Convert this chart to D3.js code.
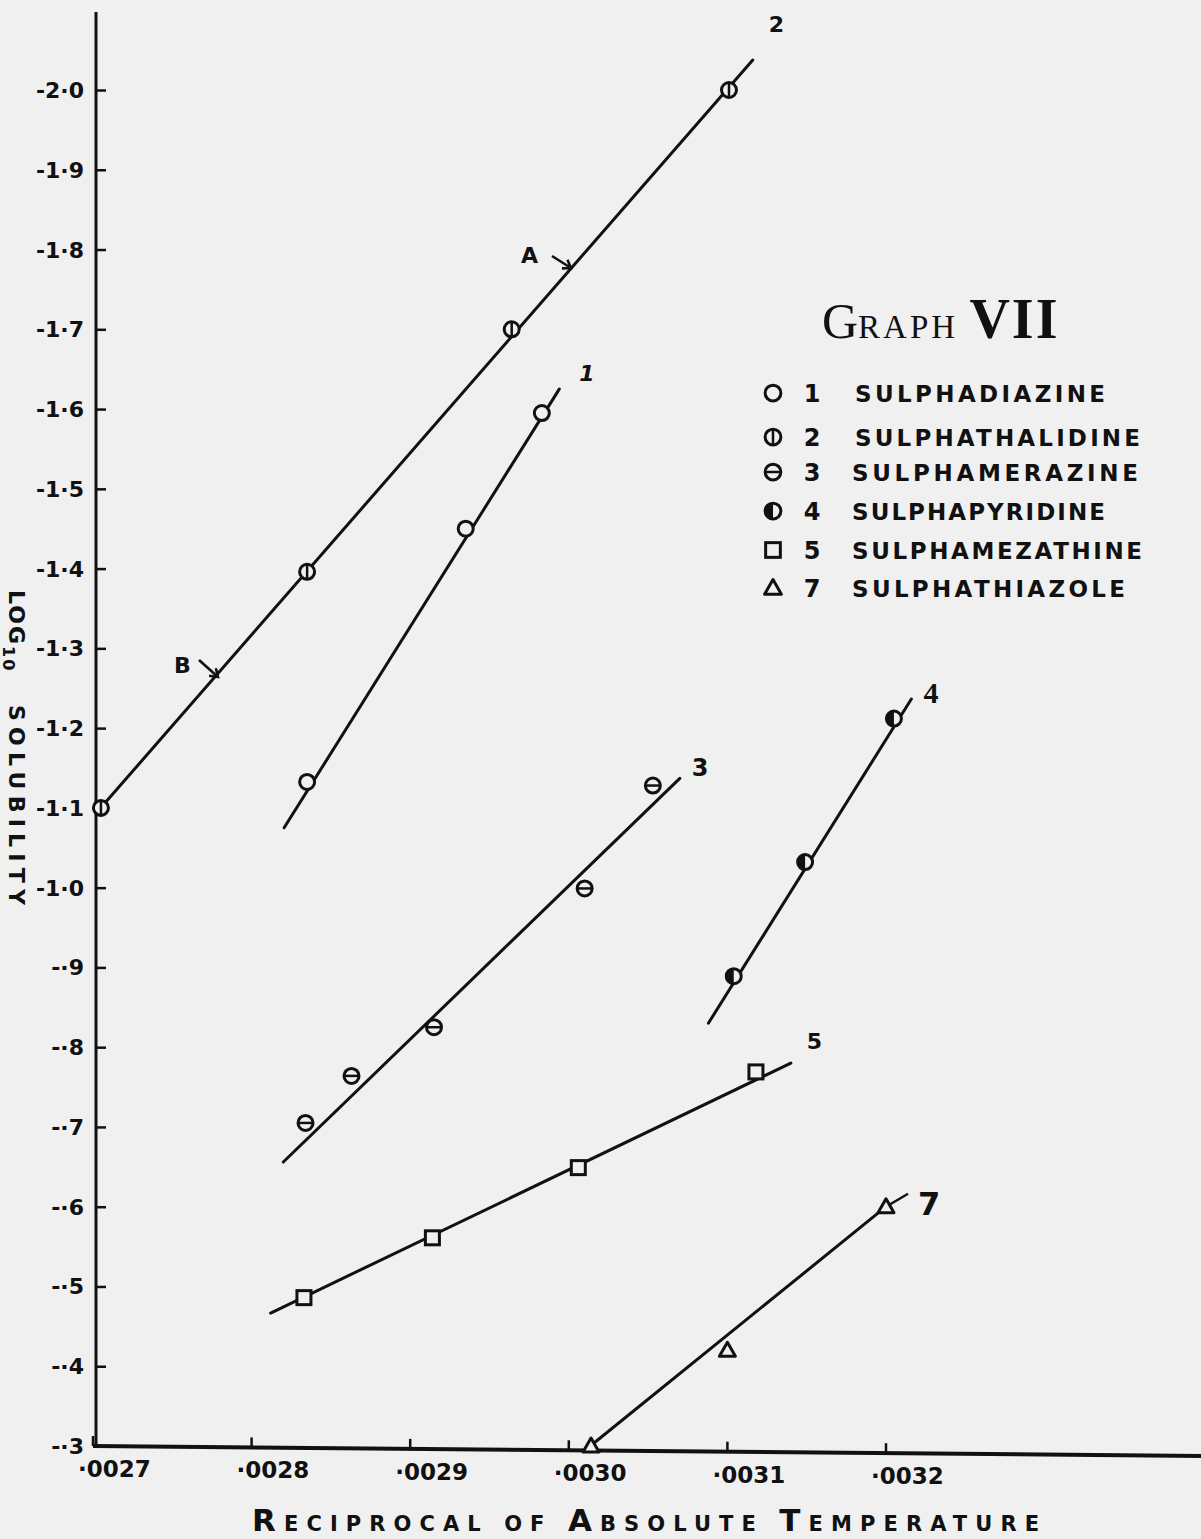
<!DOCTYPE html>
<html><head><meta charset="utf-8">
<script src="https://cdn.jsdelivr.net/npm/d3@7"></script>
<style>body{margin:0;background:#f0f0f0}svg{display:block}</style></head>
<body>
<svg id="c" width="1201" height="1539"></svg>
<script>
// ---- data ----
const xTickValues = [0.0027, 0.0028, 0.0029, 0.0030, 0.0031, 0.0032];
const xTickLabels = ["·0027", "·0028", "·0029", "·0030", "·0031", "·0032"];
const yTickValues = [-2.0, -1.9, -1.8, -1.7, -1.6, -1.5, -1.4, -1.3, -1.2, -1.1, -1.0, -0.9, -0.8, -0.7, -0.6, -0.5, -0.4, -0.3];
const yTickLabels = ["-2·0", "-1·9", "-1·8", "-1·7", "-1·6", "-1·5", "-1·4", "-1·3", "-1·2", "-1·1", "-1·0", "-·9", "-·8", "-·7", "-·6", "-·5", "-·4", "-·3"];

const seriesIds = ["1", "2", "3", "4", "5", "7"];
const seriesNames = ["SULPHADIAZINE", "SULPHATHALIDINE", "SULPHAMERAZINE", "SULPHAPYRIDINE", "SULPHAMEZATHINE", "SULPHATHIAZOLE"];
const seriesMarkers = ["open", "vbar", "hbar", "half", "square", "triangle"];

const points1 = [[0.002835, -1.1325], [0.002935, -1.45], [0.002983, -1.595]];
const points2 = [[0.002705, -1.10], [0.002835, -1.396], [0.002964, -1.70], [0.003101, -2.00]];
const points3 = [[0.002834, -0.705], [0.002863, -0.764], [0.002915, -0.825], [0.00301, -0.999], [0.003053, -1.128]];
const points4 = [[0.003104, -0.889], [0.003149, -1.032], [0.003205, -1.212]];
const points5 = [[0.002833, -0.486], [0.002914, -0.561], [0.003006, -0.649], [0.003118, -0.769]];
const points7 = [[0.003014, -0.30], [0.0031, -0.42], [0.0032, -0.60]];

const fit1 = [[0.0028205, -1.075], [0.002994, -1.625]];
const fit2 = [[0.002702, -1.0935], [0.003116, -2.0376]];
const fit3 = [[0.00282, -0.656], [0.00307, -1.137]];
const fit4 = [[0.003088, -0.830], [0.003216, -1.2365]];
const fit5 = [[0.002812, -0.4667], [0.00314, -0.780]];
const fit7 = [[0.003012, -0.2975], [0.0032, -0.60]];

const allPoints = [points1, points2, points3, points4, points5, points7];
const allFits = [fit1, fit2, fit3, fit4, fit5, fit7];

// ---- drawing ----
const ink = "#111";
const bg = "#f0f0f0";
const FONT = "'DejaVu Sans', sans-serif";
const svg = d3.select("#c");
svg.append("rect").attr("width", 1201).attr("height", 1539).attr("fill", bg);

const x = d3.scaleLinear().domain([0.0027, 0.0032]).range([93, 886]);
const y = d3.scaleLinear().domain([-2.0, -0.3]).range([90, 1446]);
const baseY = px => 1446 + (px - 93) * 10 / 1108; // slightly sloped hand-drawn baseline

// y axis
svg.append("line").attr("x1", 96).attr("x2", 96).attr("y1", 12).attr("y2", 1448)
  .attr("stroke", ink).attr("stroke-width", 3);
const yAx = svg.append("g").attr("transform", "translate(96,0)")
  .call(d3.axisRight(y).tickValues(yTickValues).tickSize(10).tickFormat(""));
yAx.select(".domain").remove();
yAx.selectAll("line").attr("stroke", ink).attr("stroke-width", 2.5);
svg.append("g").selectAll("text").data(yTickValues).join("text")
  .attr("x", 84).attr("y", d => y(d) + 8).attr("text-anchor", "end")
  .attr("font-family", FONT).attr("font-weight", "bold").attr("font-size", 22)
  .attr("fill", ink).text((d, i) => yTickLabels[i]);

// x axis
svg.append("line").attr("x1", 93).attr("x2", 1201).attr("y1", 1446).attr("y2", 1456)
  .attr("stroke", ink).attr("stroke-width", 4);
const xAx = svg.append("g")
  .call(d3.axisTop(x).tickValues(xTickValues).tickSize(10).tickFormat(""));
xAx.select(".domain").remove();
xAx.selectAll(".tick").attr("transform", d => `translate(${x(d)},${baseY(x(d))})`);
xAx.selectAll("line").attr("stroke", ink).attr("stroke-width", 2.5);
svg.append("g").selectAll("text").data(xTickValues).join("text")
  .attr("x", d => x(d) - 15).attr("y", d => baseY(x(d)) + 31)
  .attr("font-family", FONT).attr("font-weight", "bold").attr("font-size", 23)
  .attr("fill", ink).text((d, i) => xTickLabels[i]);

// x axis title (small caps)
const xt = svg.append("text").attr("x", 252).attr("y", 1531)
  .attr("font-family", FONT).attr("font-weight", "bold").attr("fill", ink)
  .attr("letter-spacing", 3).attr("textLength", 790).attr("lengthAdjust", "spacing");
[["R", "ECIPROCAL  "], ["", "OF  "], ["A", "BSOLUTE  "], ["T", "EMPERATURE"]].forEach(w => {
  if (w[0]) xt.append("tspan").attr("font-size", 31).text(w[0]);
  xt.append("tspan").attr("font-size", 21).text(w[1]);
});

// y axis title
const yt = svg.append("text").attr("transform", "translate(9,590) rotate(90)")
  .attr("font-family", FONT).attr("font-weight", "bold").attr("fill", ink).attr("font-size", 22)
  .attr("letter-spacing", 2);
yt.append("tspan").text("LOG");
yt.append("tspan").attr("font-size", 16).attr("dy", 6).text("10");
svg.append("text").attr("transform", "translate(9,705) rotate(90)")
  .attr("font-family", FONT).attr("font-weight", "bold").attr("fill", ink).attr("font-size", 22)
  .attr("textLength", 200).attr("lengthAdjust", "spacing").text("SOLUBILITY");

// title
const tt = svg.append("text").attr("x", 822).attr("y", 338)
  .attr("font-family", "'Liberation Serif', serif").attr("fill", ink);
tt.append("tspan").attr("font-size", 50).text("G");
tt.append("tspan").attr("font-size", 33).attr("letter-spacing", 3).text("RAPH ");
tt.append("tspan").attr("font-size", 56).attr("font-weight", "bold").attr("letter-spacing", 2).text("VII");

// markers
function marker(g, type, cx, cy, s) {
  s = s || 1;
  const sw = 3;
  if (type === "square") {
    g.append("rect").attr("x", cx - 7 * s).attr("y", cy - 7 * s).attr("width", 14 * s).attr("height", 14 * s)
      .attr("fill", bg).attr("stroke", ink).attr("stroke-width", sw);
    return;
  }
  if (type === "triangle") {
    g.append("path").attr("d", `M${cx},${cy - 8 * s}L${cx + 8 * s},${cy + 6 * s}L${cx - 8 * s},${cy + 6 * s}Z`)
      .attr("fill", bg).attr("stroke", ink).attr("stroke-width", sw).attr("stroke-linejoin", "round");
    return;
  }
  const r = 7.5 * s;
  g.append("circle").attr("cx", cx).attr("cy", cy).attr("r", r)
    .attr("fill", bg).attr("stroke", ink).attr("stroke-width", sw);
  if (type === "vbar") g.append("line").attr("x1", cx).attr("x2", cx).attr("y1", cy - r).attr("y2", cy + r)
    .attr("stroke", ink).attr("stroke-width", 2.5);
  if (type === "hbar") g.append("line").attr("x1", cx - r).attr("x2", cx + r).attr("y1", cy).attr("y2", cy)
    .attr("stroke", ink).attr("stroke-width", 2.5);
  if (type === "half") g.append("path")
    .attr("d", d3.arc()({innerRadius: 0, outerRadius: r, startAngle: Math.PI, endAngle: 2 * Math.PI}))
    .attr("transform", `translate(${cx},${cy})`).attr("fill", ink);
}

// fit lines + points
const line = d3.line().x(d => x(d[0])).y(d => y(d[1]));
allFits.forEach(f => {
  svg.append("path").attr("d", line(f)).attr("fill", "none").attr("stroke", ink)
    .attr("stroke-width", 3).attr("stroke-linecap", "round");
});
// leader for series 7
const e7 = fit7[1];
svg.append("line").attr("x1", x(e7[0])).attr("y1", y(e7[1]))
  .attr("x2", x(e7[0]) + 22).attr("y2", y(e7[1]) - 13).attr("stroke", ink).attr("stroke-width", 2.5);

allPoints.forEach((pts, i) => {
  const g = svg.append("g");
  pts.forEach(p => marker(g, seriesMarkers[i], x(p[0]), y(p[1])));
});

// line-end labels
const endLabelOffset = [[20, -8, 22, "italic", FONT], [16, -28, 22, "normal", FONT], [12, -2, 24, "normal", FONT],
                        [12, 4, 30, "bold", "'Liberation Serif', serif"], [16, -14, 22, "normal", FONT], [32, 8, 32, "normal", FONT]];
allFits.forEach((f, i) => {
  const o = endLabelOffset[i];
  svg.append("text").attr("x", x(f[1][0]) + o[0]).attr("y", y(f[1][1]) + o[1])
    .attr("font-family", o[4]).attr("font-weight", "bold").attr("font-style", o[3] === "italic" ? "italic" : "normal")
    .attr("font-size", o[2]).attr("fill", ink).text(seriesIds[i]);
});

// A / B annotations
function note(label, tx, ty, x1, y1, x2, y2) {
  svg.append("text").attr("x", tx).attr("y", ty).attr("font-family", FONT).attr("font-weight", "bold")
    .attr("font-size", 22).attr("fill", ink).text(label);
  svg.append("line").attr("x1", x1).attr("y1", y1).attr("x2", x2).attr("y2", y2)
    .attr("stroke", ink).attr("stroke-width", 2.6);
  const a = Math.atan2(y2 - y1, x2 - x1);
  const h = 9;
  svg.append("path").attr("d",
    `M${x2 - h * Math.cos(a - 0.6)},${y2 - h * Math.sin(a - 0.6)}L${x2},${y2}L${x2 - h * Math.cos(a + 0.6)},${y2 - h * Math.sin(a + 0.6)}`)
    .attr("fill", "none").attr("stroke", ink).attr("stroke-width", 2.6);
}
note("A", 521, 263, 552, 256, 571, 268);
note("B", 174, 673, 199, 660, 218, 677);

// legend
const legRowY = [393, 437, 472, 511, 550, 588];
const legNameLen = [250, 285, 286, 253, 290, 273];
const legNameX = [855, 855, 852, 852, 852, 852];
seriesIds.forEach((id, i) => {
  const ly = legRowY[i];
  const g = svg.append("g");
  marker(g, seriesMarkers[i], 773, ly, 1.05);
  svg.append("text").attr("x", 812).attr("y", ly + 9).attr("text-anchor", "middle")
    .attr("font-family", FONT).attr("font-weight", "bold").attr("font-size", 24).attr("fill", ink).text(id);
  svg.append("text").attr("x", legNameX[i]).attr("y", ly + 9)
    .attr("font-family", FONT).attr("font-weight", "bold").attr("font-size", 23).attr("fill", ink)
    .attr("textLength", legNameLen[i]).attr("lengthAdjust", "spacing").text(seriesNames[i]);
});
</script>
</body></html>
